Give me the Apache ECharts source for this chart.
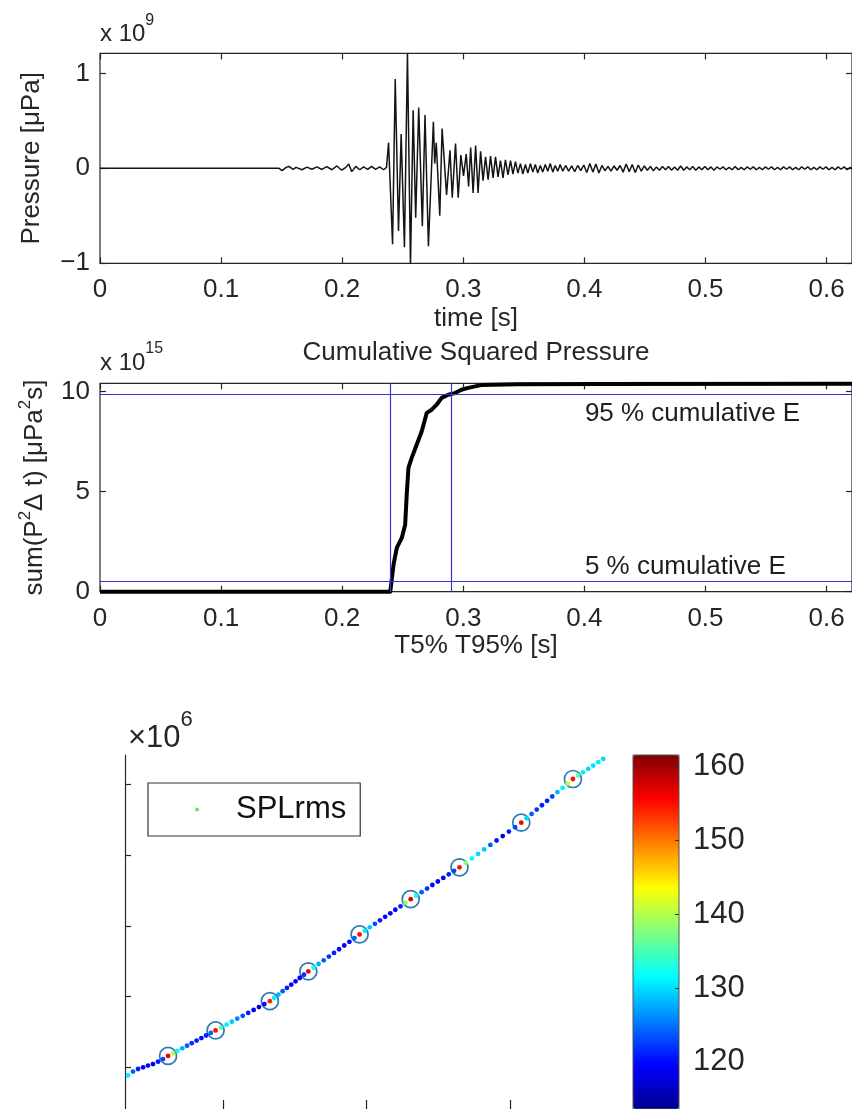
<!DOCTYPE html>
<html>
<head>
	<title>pressure</title>
	<meta charset="utf-8">
	<style>
		html, body {
			margin: 0;
			padding: 0;
			background: #fff;
		}
		#main {
			width: 852px;
			height: 1109px;
		}
	</style>
	<script src="https://cdn.jsdelivr.net/npm/echarts@6/dist/echarts.min.js"></script>
</head>
<body>

<div id="main"></div>

<script>

// top panel: pressure trace, [time s, pressure x1e9 uPa]
var preBurst = [
	[0, 0], [0.145, 0], [0.1479, 0], [0.1504, -0.025], [0.1537, 0.01], [0.1561, 0.02],
	[0.1594, -0.01], [0.1619, 0.01], [0.1668, -0.015], [0.1709, 0.012], [0.1750, -0.01],
	[0.1791, 0.015], [0.1832, -0.012], [0.1873, 0.018], [0.1915, -0.015], [0.1956, 0.025],
	[0.1997, -0.02], [0.2030, 0.01], [0.2054, 0.045], [0.2079, -0.035], [0.2112, 0.02],
	[0.2145, -0.015], [0.2177, 0.015], [0.2210, -0.01], [0.2243, 0.02], [0.2276, -0.01],
	[0.2309, 0.015], [0.2342, -0.015], [0.2366, 0.01]
];
var burst = [
	[0.2383, 0.27], [0.2416, -0.80], [0.2438, 0.94], [0.2465, -0.66], [0.2487, 0.36],
	[0.2514, -0.83], [0.2539, 1.21], [0.2564, -1.02], [0.2586, 0.61], [0.2607, -0.52],
	[0.2632, 0.64], [0.2662, -0.61], [0.2684, 0.56], [0.2712, -0.82], [0.2753, 0.49],
	[0.2764, 0.05], [0.2777, 0.27], [0.2806, -0.50], [0.2825, 0.42], [0.2862, -0.28],
	[0.2890, 0.19], [0.2909, -0.31], [0.2936, 0.26], [0.2958, -0.31], [0.2980, 0.14],
	[0.3002, -0.08], [0.3024, 0.15], [0.3044, -0.19], [0.3061, 0.22], [0.3081, -0.26],
	[0.3102, 0.24], [0.3122, -0.26], [0.3143, 0.18], [0.3163, -0.13], [0.3184, 0.12],
	[0.3205, -0.12], [0.3225, 0.13], [0.3246, -0.10], [0.3266, 0.12], [0.3287, -0.09],
	[0.3307, 0.08], [0.3328, -0.10], [0.3348, 0.09], [0.3369, -0.07], [0.3390, 0.08],
	[0.3410, -0.06], [0.3431, 0.07], [0.3451, -0.05], [0.3472, 0.05], [0.3492, -0.06],
	[0.3513, 0.04], [0.3533, -0.05], [0.3554, 0.05], [0.3574, -0.04], [0.3595, 0.04],
	[0.3615, -0.05], [0.3636, 0.03], [0.3656, -0.04], [0.3677, 0.04], [0.3698, -0.03],
	[0.3718, 0.05], [0.3739, -0.04], [0.3759, 0.03], [0.3780, -0.03], [0.3800, 0.04],
	[0.3821, -0.03]
];
var coda = [
	[0.3845, 0.03], [0.3870, -0.03], [0.3895, 0.025], [0.3920, -0.035], [0.3945, 0.03],
	[0.3970, -0.025], [0.3995, 0.035], [0.4020, -0.045], [0.4045, 0.05], [0.4070, -0.04],
	[0.4095, 0.045], [0.4120, -0.05], [0.4145, 0.03], [0.4170, -0.025], [0.4195, 0.02],
	[0.4220, -0.03], [0.4245, 0.025], [0.4270, -0.02], [0.4295, 0.03], [0.4320, -0.04],
	[0.4345, 0.045], [0.4370, -0.035], [0.4395, 0.04], [0.4420, -0.045], [0.4445, 0.035],
	[0.4470, -0.03], [0.4495, 0.025], [0.4520, -0.02], [0.4545, 0.02], [0.4570, -0.025],
	[0.4595, 0.015], [0.4620, -0.02], [0.4645, 0.02], [0.4670, -0.015], [0.4695, 0.02],
	[0.4720, -0.02], [0.4745, 0.015], [0.4770, -0.02], [0.4795, 0.025], [0.4820, -0.02],
	[0.4845, 0.015], [0.4870, -0.015], [0.4895, 0.02], [0.4920, -0.02], [0.4945, 0.015],
	[0.4970, -0.015], [0.4995, 0.02], [0.5020, -0.015], [0.5045, 0.015], [0.5070, -0.02],
	[0.5095, 0.015], [0.5120, -0.01], [0.5145, 0.015], [0.5170, -0.015], [0.5195, 0.01],
	[0.5220, -0.015], [0.5245, 0.02], [0.5270, -0.015], [0.5295, 0.01], [0.5320, -0.015],
	[0.5345, 0.015], [0.5370, -0.01], [0.5395, 0.015], [0.5420, -0.015], [0.5445, 0.01],
	[0.5470, -0.015], [0.5495, 0.015], [0.5520, -0.01], [0.5545, 0.015], [0.5570, -0.015],
	[0.5595, 0.01], [0.5620, -0.015], [0.5645, 0.015], [0.5670, -0.01], [0.5695, 0.015],
	[0.5720, -0.015], [0.5745, 0.01], [0.5770, -0.015], [0.5795, 0.015], [0.5820, -0.01],
	[0.5845, 0.015], [0.5870, -0.015], [0.5895, 0.01], [0.5920, -0.015], [0.5945, 0.015],
	[0.5970, -0.01], [0.5995, 0.015], [0.6020, -0.015], [0.6045, 0.01], [0.6070, -0.015],
	[0.6095, 0.015], [0.6120, -0.01], [0.6145, 0.015], [0.6170, -0.015], [0.6195, 0.01],
	[0.6220, -0.01]
];

// middle panel: cumulative squared pressure (x1e15)
var cumT = [0, 0.2397, 0.2424, 0.2451, 0.2492, 0.2520, 0.2533, 0.2547, 0.2574, 0.2615, 0.2657,
	0.2698, 0.2739, 0.2780, 0.2821, 0.2876, 0.2931, 0.2985, 0.3040, 0.3147, 0.3451, 0.4108, 0.621];
var cumE = [0, 0, 1.35, 2.19, 2.69, 3.35, 4.85, 6.19, 6.69, 7.35, 8.02,
	8.94, 9.10, 9.35, 9.69, 9.85, 9.93, 10.10, 10.19, 10.33, 10.37, 10.39, 10.40];
var t5 = 0.2418, t95 = 0.2931;
var e5 = 0.52, e95 = 9.88;
var noteX = [0.4, 0.4];
var noteY = [8.9, 1.25];
var noteText = ['95 % cumulative E', '5 % cumulative E'];

var timeTicks = [0, 0.1, 0.2, 0.3, 0.4, 0.5, 0.6];
var pressureTicks = [-1, 0, 1];
var energyTicks = [0, 5, 10];

// bottom panel: SPLrms track (x1e6) coloured by level
var splX = [
	0.338, 0.373, 0.408, 0.443, 0.477, 0.512, 0.547, 0.582,
	0.617,
	0.650, 0.683, 0.716, 0.749, 0.782, 0.816, 0.849, 0.882, 0.915,
	0.948,
	0.986, 1.024, 1.061, 1.099, 1.137, 1.175, 1.213, 1.250, 1.288,
	1.326,
	1.356, 1.386, 1.415, 1.445, 1.475, 1.505, 1.534, 1.564,
	1.594,
	1.630, 1.665, 1.701, 1.737, 1.773, 1.808, 1.844, 1.880, 1.915,
	1.951,
	1.987, 2.022, 2.058, 2.093, 2.129, 2.165, 2.200, 2.236, 2.271,
	2.307,
	2.345, 2.383, 2.421, 2.458, 2.496, 2.534, 2.572, 2.609,
	2.647,
	2.690, 2.733, 2.776, 2.819, 2.862, 2.905, 2.948, 2.991, 3.034,
	3.077,
	3.113, 3.149, 3.185, 3.221, 3.257, 3.293, 3.329, 3.365, 3.401,
	3.437,
	3.472, 3.507, 3.543, 3.578, 3.613, 3.648
];
var splY = [
	0.884, 0.940, 0.976, 1.000, 1.024, 1.046, 1.080, 1.116,
	1.161,
	1.197, 1.233, 1.269, 1.305, 1.341, 1.378, 1.414, 1.450, 1.486,
	1.522,
	1.563, 1.605, 1.646, 1.688, 1.729, 1.770, 1.812, 1.853, 1.895,
	1.936,
	1.983, 2.030, 2.077, 2.123, 2.170, 2.217, 2.264, 2.310,
	2.357,
	2.409, 2.462, 2.514, 2.567, 2.619, 2.671, 2.724, 2.776, 2.829,
	2.881,
	2.931, 2.981, 3.030, 3.080, 3.130, 3.180, 3.230, 3.279, 3.329,
	3.379,
	3.429, 3.479, 3.530, 3.580, 3.630, 3.680, 3.731, 3.781,
	3.831,
	3.894, 3.957, 4.020, 4.083, 4.147, 4.210, 4.273, 4.336, 4.399,
	4.462,
	4.524, 4.586, 4.647, 4.709, 4.771, 4.833, 4.895, 4.956, 5.018,
	5.080,
	5.128, 5.175, 5.223, 5.270, 5.318, 5.365
];
var splV = [
	131, 124, 121, 119, 120, 118, 121, 123,
	156,
	140, 132, 128, 124, 122, 121, 120, 121, 124,
	155,
	135, 131, 129, 126, 123, 121, 119, 117, 120,
	154,
	131, 128, 124, 121, 120, 118, 119, 122,
	156,
	133, 128, 124, 122, 121, 120, 119, 120, 124,
	155,
	131, 129, 123, 121, 120, 119, 120, 121, 138,
	157,
	132, 124, 122, 120, 119, 119, 121, 123,
	155,
	138, 132, 130, 129, 124, 121, 117, 121, 123,
	156,
	130, 124, 122, 121, 121, 123, 128, 131, 141,
	155,
	136, 131, 130, 130, 131, 130
];
var ringX = [0.617, 0.948, 1.326, 1.594, 1.951, 2.307, 2.647, 3.077, 3.437];
var ringY = [1.161, 1.522, 1.936, 2.357, 2.881, 3.379, 3.831, 4.462, 5.080];
var trackXTicks = [1, 2, 3];
var trackYTicks = [1, 2, 3, 4, 5];
var splTicks = [120, 130, 140, 150, 160];
var splMin = 113.6, splMax = 161.6;

var jet = ['#000090', '#0000ff', '#0080ff', '#00ffff', '#80ff80', '#ffff00', '#ff8000', '#ff0000', '#800000'];

var font = '"Liberation Sans", Arial, sans-serif';
var ink = '#262626';

function zip () {
	var cols = arguments;
	return cols[0].map(function (v, i) {
		return Array.prototype.map.call(cols, function (c) { return c[i]; });
	});
}

function boxAxis (grid, pos, min, max, ticks) {
	return {
		gridIndex: grid,
		type: 'value',
		position: pos,
		min: min,
		max: max,
		axisLine: { show: false, onZero: false },
		splitLine: { show: false },
		axisTick: { inside: true, length: 6, customValues: ticks, lineStyle: { color: ink, width: 1.2 } },
		axisLabel: { show: false }
	};
}

function labelStyle (ticks, margin, size) {
	return {
		customValues: ticks,
		margin: margin,
		fontSize: size || 26,
		fontFamily: font,
		color: ink,
		formatter: function (v) { return String(v).replace('-', '\u2212'); }
	};
}

var chart = echarts.init(document.getElementById('main'), null, { renderer: 'canvas' });

var xTime = boxAxis(0, 'bottom', 0, 0.621, timeTicks);
xTime.axisLabel = labelStyle(timeTicks, 14);
xTime.name = 'time [s]';
xTime.nameLocation = 'middle';
xTime.nameGap = 43;
xTime.nameTextStyle = { fontSize: 26, fontFamily: font, color: ink };

var xT95 = boxAxis(1, 'bottom', 0, 0.621, timeTicks);
xT95.axisLabel = labelStyle(timeTicks, 14);
xT95.name = 'T5% T95% [s]';
xT95.nameLocation = 'middle';
xT95.nameGap = 38;
xT95.nameTextStyle = { fontSize: 26, fontFamily: font, color: ink };

var yP = boxAxis(0, 'left', -1, 1.21, pressureTicks);
yP.axisLabel = labelStyle(pressureTicks, 10);
yP.name = 'Pressure [\u03bcPa]';
yP.nameLocation = 'middle';
yP.nameRotate = 90;
yP.nameGap = 55;
yP.nameTextStyle = { fontSize: 26, fontFamily: font, color: ink };

var yE = boxAxis(1, 'left', 0, 10.42, energyTicks);
yE.axisLabel = labelStyle(energyTicks, 10);
yE.name = '{a|sum(P}{s|2}{a|\u0394 t) [\u03bcPa}{s|2}{a|s]}';
yE.nameLocation = 'middle';
yE.nameRotate = 90;
yE.nameGap = 48;
yE.nameTextStyle = {
	fontSize: 26, fontFamily: font, color: ink,
	rich: {
		a: { fontSize: 26, fontFamily: font, color: ink },
		s: { fontSize: 17, fontFamily: font, color: ink, padding: [0, 0, 18, 0] }
	}
};

var option = {
	animation: false,
	backgroundColor: '#fff',
	grid: [
		{ left: 100, top: 53.4, width: 756, height: 209.9, show: true, borderColor: ink, borderWidth: 1.2 },
		{ left: 100, top: 383.3, width: 756, height: 208.4, show: true, borderColor: ink, borderWidth: 1.2 },
		{ left: 125, top: 755, width: 490, height: 357 },
		{ left: 633, top: 755, width: 46, height: 354, show: true, borderColor: '#555', borderWidth: 1, z: 6 }
	],
	xAxis: [
		xTime,
		boxAxis(0, 'top', 0, 0.621, timeTicks),
		xT95,
		boxAxis(1, 'top', 0, 0.621, timeTicks),
		{
			gridIndex: 2, type: 'value', min: 0.317, max: 3.73,
			axisLine: { show: true, onZero: false, lineStyle: { color: ink, width: 1.2 } },
			splitLine: { show: false },
			axisTick: { inside: true, length: 9, customValues: trackXTicks, lineStyle: { color: ink, width: 1.2 } },
			axisLabel: { show: false }
		},
		{ gridIndex: 3, type: 'value', min: 0, max: 1, show: false }
	],
	yAxis: [
		yP,
		boxAxis(0, 'right', -1, 1.21, pressureTicks),
		yE,
		boxAxis(1, 'right', 0, 10.42, energyTicks),
		{
			gridIndex: 2, type: 'value', min: 0.41, max: 5.42,
			axisLine: { show: true, onZero: false, lineStyle: { color: ink, width: 1.2 } },
			splitLine: { show: false },
			axisTick: { inside: true, length: 6, customValues: trackYTicks, lineStyle: { color: ink, width: 1.2 } },
			axisLabel: { show: false }
		},
		{
			gridIndex: 3, type: 'value', position: 'right', min: splMin, max: splMax, z: 10,
			axisLine: { show: false, onZero: false },
			splitLine: { show: false },
			axisTick: { inside: true, length: 4, customValues: splTicks, lineStyle: { color: '#333', width: 1 } },
			axisLabel: labelStyle(splTicks, 14, 31)
		}
	],
	visualMap: [{
		type: 'continuous',
		seriesIndex: 3,
		dimension: 2,
		min: splMin,
		max: splMax,
		calculable: false,
		hoverLink: false,
		left: 633,
		top: 755,
		padding: 0,
		itemWidth: 46,
		itemHeight: 354,
		inRange: { color: jet }
	}],
	legend: {
		data: ['SPLrms'],
		left: 148,
		top: 783,
		orient: 'vertical',
		padding: [11, 14, 11, 47],
		itemWidth: 4,
		itemHeight: 4,
		itemGap: 0,
		icon: 'circle',
		selectedMode: false,
		borderColor: '#333',
		borderWidth: 1.2,
		backgroundColor: '#fff',
		textStyle: { fontSize: 31, lineHeight: 31, fontFamily: font, color: '#111', padding: [0, 0, 0, 32] }
	},
	graphic: [
		{
			type: 'text', x: 100, y: 34,
			style: {
				text: '{b|x 10}{s|9}', verticalAlign: 'middle',
				rich: {
					b: { fontSize: 24, fontFamily: font, fill: ink },
					s: { fontSize: 16, fontFamily: font, fill: ink, padding: [0, 0, 26, 0] }
				}
			}
		},
		{
			type: 'text', x: 100, y: 363,
			style: {
				text: '{b|x 10}{s|15}', verticalAlign: 'middle',
				rich: {
					b: { fontSize: 24, fontFamily: font, fill: ink },
					s: { fontSize: 16, fontFamily: font, fill: ink, padding: [0, 0, 28, 0] }
				}
			}
		},
		{
			type: 'text', x: 476, y: 353,
			style: {
				text: 'Cumulative Squared Pressure', align: 'center', verticalAlign: 'middle',
				fontSize: 26, fontFamily: font, fill: ink
			}
		},
		{
			type: 'text', x: 128, y: 738,
			style: {
				text: '{b|\u00d710}{s|6}', verticalAlign: 'middle',
				rich: {
					b: { fontSize: 31, fontFamily: font, fill: ink },
					s: { fontSize: 22, fontFamily: font, fill: ink, padding: [0, 0, 36, 0] }
				}
			}
		}
	],
	series: [
		{
			type: 'line',
			xAxisIndex: 0,
			yAxisIndex: 0,
			data: preBurst.concat(burst, coda),
			showSymbol: false,
			lineStyle: { color: '#141414', width: 1.5 },
			silent: true
		},
		{
			type: 'line',
			xAxisIndex: 2,
			yAxisIndex: 2,
			data: zip(cumT, cumE),
			showSymbol: false,
			clip: false,
			lineStyle: { color: '#000', width: 4, join: 'round' },
			silent: true,
			markLine: {
				silent: true,
				symbol: ['none', 'none'],
				label: { show: false },
				lineStyle: { color: '#3535d5', width: 1.2, type: 'solid' },
				data: [{ yAxis: e95 }, { yAxis: e5 }, { xAxis: t5 }, { xAxis: t95 }]
			}
		},
		{
			type: 'scatter',
			xAxisIndex: 2,
			yAxisIndex: 2,
			data: zip(noteX, noteY, noteText),
			symbolSize: 1,
			itemStyle: { color: 'rgba(0,0,0,0)', opacity: 1 },
			silent: true,
			label: {
				show: true,
				position: 'right',
				distance: 0,
				fontSize: 26,
				fontFamily: font,
				color: '#1e1e1e',
				opacity: 1,
				formatter: function (p) { return p.value[2]; }
			}
		},
		{
			name: 'SPLrms',
			type: 'scatter',
			xAxisIndex: 4,
			yAxisIndex: 4,
			data: zip(splX, splY, splV),
			symbolSize: 4.8,
			itemStyle: { color: '#5ee85e', opacity: 1 },
			z: 4
		},
		{
			type: 'scatter',
			xAxisIndex: 4,
			yAxisIndex: 4,
			data: zip(ringX, ringY),
			symbolSize: 17,
			itemStyle: { color: 'rgba(0,0,0,0)', borderColor: '#2f79b5', borderWidth: 1.7, opacity: 1 },
			z: 3
		}
	]
};

chart.setOption(option);

</script>
</body>
</html>
